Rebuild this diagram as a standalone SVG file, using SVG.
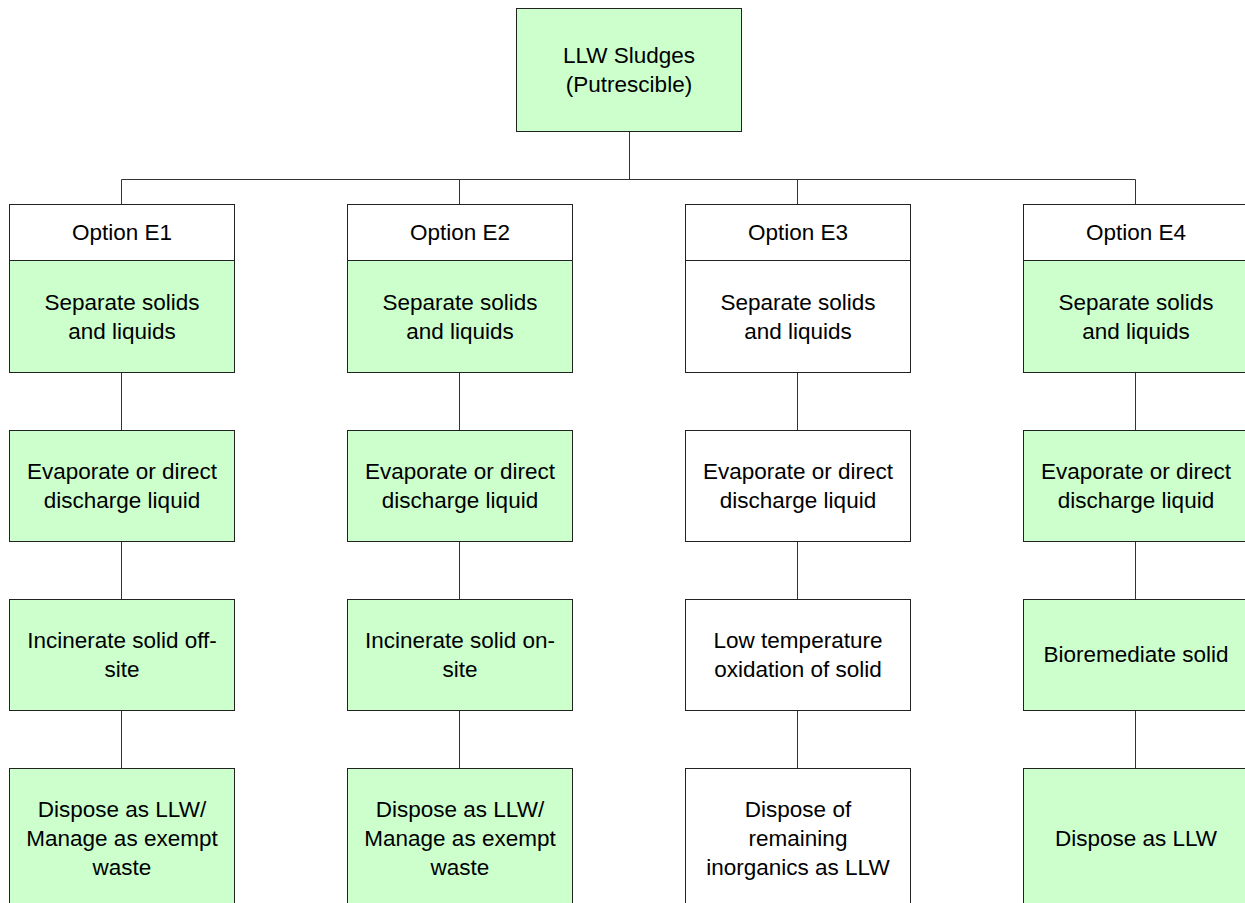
<svg xmlns="http://www.w3.org/2000/svg" width="1245" height="903" viewBox="0 0 1245 903">
<style>
.g{fill:#CCFFCC;stroke:#222;stroke-width:1}
.w{fill:#FFFFFF;stroke:#222;stroke-width:1}
.c{fill:none;stroke:#333;stroke-width:1}
text{font-family:"Liberation Sans",Arial,sans-serif;font-size:22.5px;fill:#000;text-anchor:middle}
</style>
<rect x="0" y="0" width="1245" height="903" fill="#FFFFFF"/>
<g id="connectors">
<path class="c" d="M629.5 132V179.5M121.5 179.5H1135.5M121.5 179.5V204M459.5 179.5V204M797.5 179.5V204M1135.5 179.5V204"/>
<path class="c" d="M121.5 373V430M121.5 542V599M121.5 711V768"/>
<path class="c" d="M459.5 373V430M459.5 542V599M459.5 711V768"/>
<path class="c" d="M797.5 373V430M797.5 542V599M797.5 711V768"/>
<path class="c" d="M1135.5 373V430M1135.5 542V599M1135.5 711V768"/>
</g>
<g id="root">
<rect class="g" x="516.5" y="8.5" width="225" height="123"/>
<text x="629" y="63">LLW Sludges</text>
<text x="629" y="92">(Putrescible)</text>
</g>
<g id="e1">
<rect class="w" x="9.5" y="204.5" width="225" height="56"/>
<text x="122" y="240">Option E1</text>
</g>
<g id="e1-1"><rect class="g" x="9.5" y="260.5" width="225" height="112"/><text x="122" y="310">Separate solids</text><text x="122" y="339">and liquids</text></g>
<g id="e1-2"><rect class="g" x="9.5" y="430.5" width="225" height="111"/><text x="122" y="479">Evaporate or direct</text><text x="122" y="508">discharge liquid</text></g>
<g id="e1-3"><rect class="g" x="9.5" y="599.5" width="225" height="111"/><text x="122" y="648">Incinerate solid off-</text><text x="122" y="677">site</text></g>
<g id="e1-4"><rect class="g" x="9.5" y="768.5" width="225" height="150"/><text x="122" y="817">Dispose as LLW/</text><text x="122" y="846">Manage as exempt</text><text x="122" y="875">waste</text></g>
<g id="e2">
<rect class="w" x="347.5" y="204.5" width="225" height="56"/>
<text x="460" y="240">Option E2</text>
</g>
<g id="e2-1"><rect class="g" x="347.5" y="260.5" width="225" height="112"/><text x="460" y="310">Separate solids</text><text x="460" y="339">and liquids</text></g>
<g id="e2-2"><rect class="g" x="347.5" y="430.5" width="225" height="111"/><text x="460" y="479">Evaporate or direct</text><text x="460" y="508">discharge liquid</text></g>
<g id="e2-3"><rect class="g" x="347.5" y="599.5" width="225" height="111"/><text x="460" y="648">Incinerate solid on-</text><text x="460" y="677">site</text></g>
<g id="e2-4"><rect class="g" x="347.5" y="768.5" width="225" height="150"/><text x="460" y="817">Dispose as LLW/</text><text x="460" y="846">Manage as exempt</text><text x="460" y="875">waste</text></g>
<g id="e3">
<rect class="w" x="685.5" y="204.5" width="225" height="56"/>
<text x="798" y="240">Option E3</text>
</g>
<g id="e3-1"><rect class="w" x="685.5" y="260.5" width="225" height="112"/><text x="798" y="310">Separate solids</text><text x="798" y="339">and liquids</text></g>
<g id="e3-2"><rect class="w" x="685.5" y="430.5" width="225" height="111"/><text x="798" y="479">Evaporate or direct</text><text x="798" y="508">discharge liquid</text></g>
<g id="e3-3"><rect class="w" x="685.5" y="599.5" width="225" height="111"/><text x="798" y="648">Low temperature</text><text x="798" y="677">oxidation of solid</text></g>
<g id="e3-4"><rect class="w" x="685.5" y="768.5" width="225" height="150"/><text x="798" y="817">Dispose of</text><text x="798" y="846">remaining</text><text x="798" y="875">inorganics as LLW</text></g>
<g id="e4">
<rect class="w" x="1023.5" y="204.5" width="225" height="56"/>
<text x="1136" y="240">Option E4</text>
</g>
<g id="e4-1"><rect class="g" x="1023.5" y="260.5" width="225" height="112"/><text x="1136" y="310">Separate solids</text><text x="1136" y="339">and liquids</text></g>
<g id="e4-2"><rect class="g" x="1023.5" y="430.5" width="225" height="111"/><text x="1136" y="479">Evaporate or direct</text><text x="1136" y="508">discharge liquid</text></g>
<g id="e4-3"><rect class="g" x="1023.5" y="599.5" width="225" height="111"/><text x="1136" y="662">Bioremediate solid</text></g>
<g id="e4-4"><rect class="g" x="1023.5" y="768.5" width="225" height="150"/><text x="1136" y="846">Dispose as LLW</text></g>
</svg>
